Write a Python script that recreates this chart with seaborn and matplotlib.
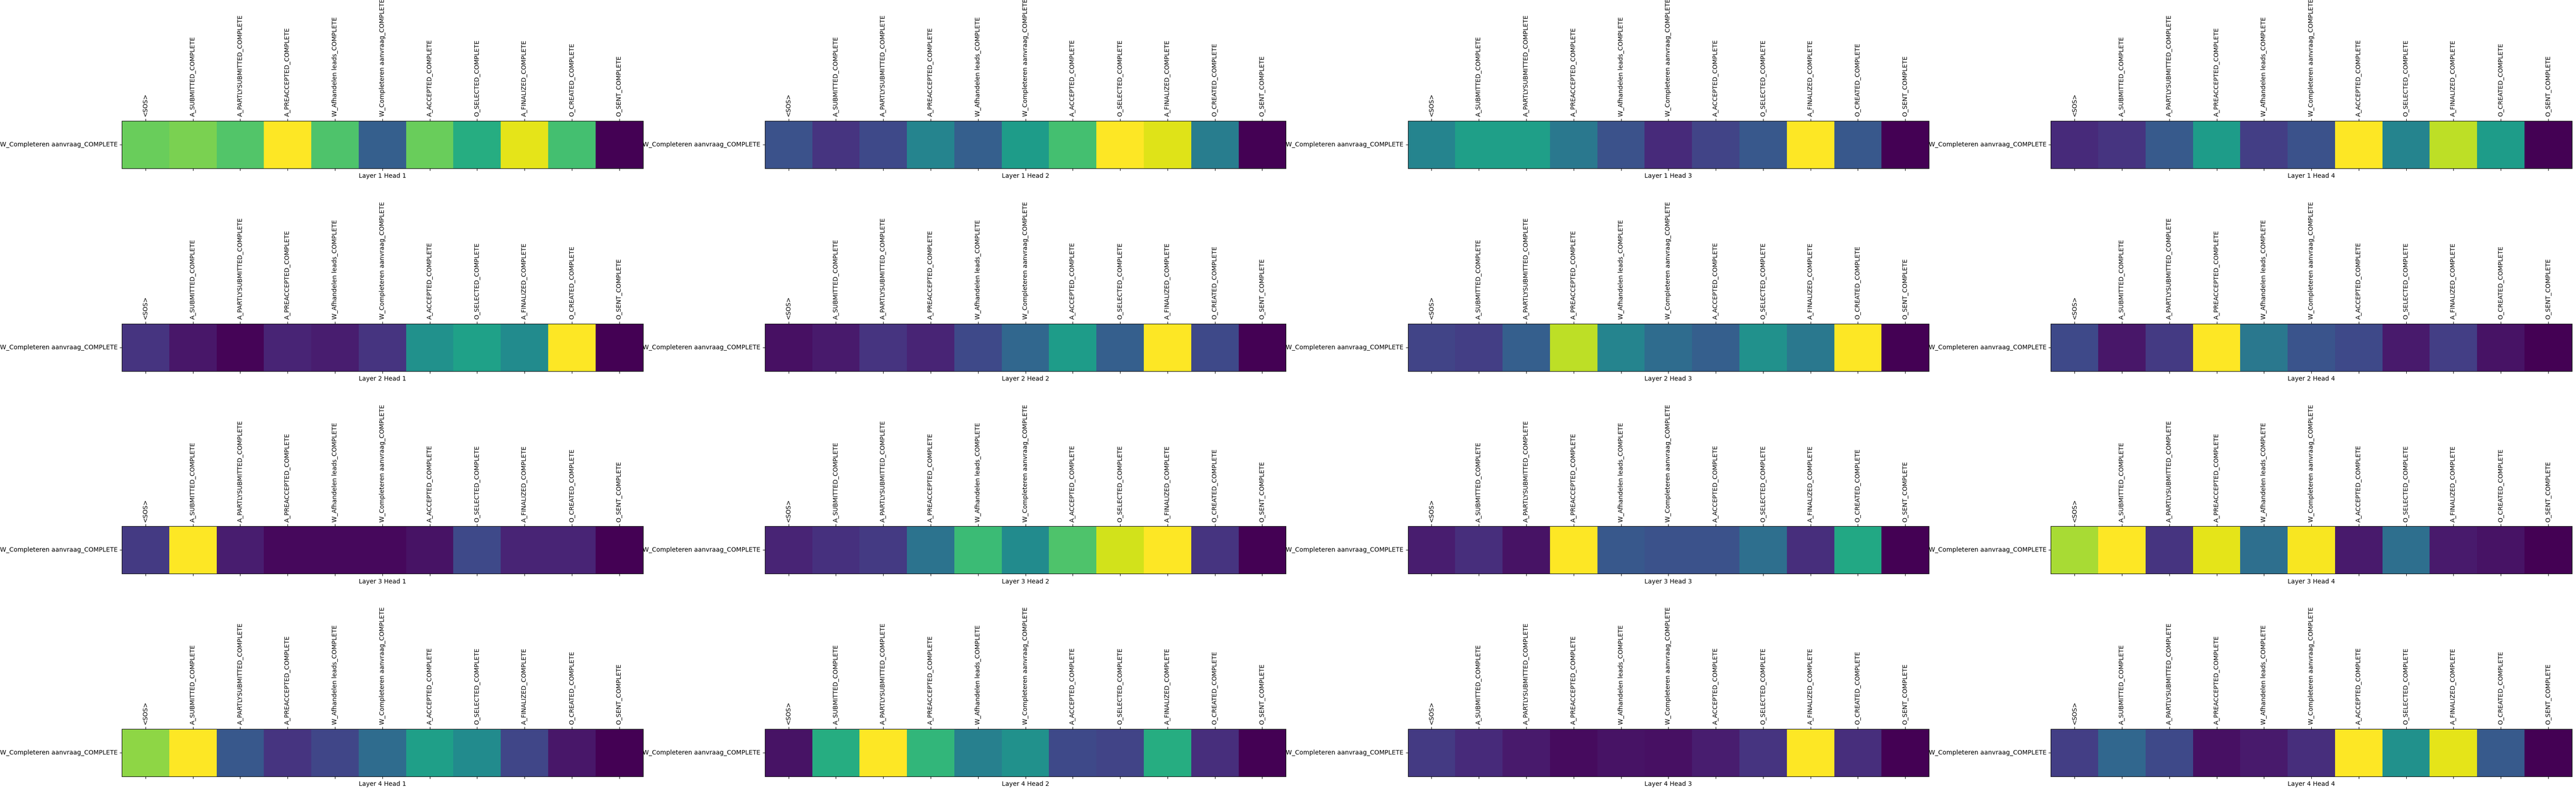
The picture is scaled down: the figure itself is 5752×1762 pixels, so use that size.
import numpy as np
import pandas as pd
import matplotlib
matplotlib.use("Agg")
import matplotlib.pyplot as plt
import seaborn as sns

# LABELS

events = ['<SOS>', 'A_SUBMITTED_COMPLETE', 'A_PARTLYSUBMITTED_COMPLETE',
          'A_PREACCEPTED_COMPLETE', 'W_Afhandelen leads_COMPLETE',
          'W_Completeren aanvraag_COMPLETE', 'A_ACCEPTED_COMPLETE',
          'O_SELECTED_COMPLETE', 'A_FINALIZED_COMPLETE',
          'O_CREATED_COMPLETE', 'O_SENT_COMPLETE']

query = ['W_Completeren aanvraag_COMPLETE']

# ATTENTION WEIGHTS (normalised per head)

l1h1 = [0.77, 0.80, 0.73, 1.00, 0.72, 0.30, 0.77, 0.62, 0.96, 0.70, 0.00]
l1h2 = [0.25, 0.15, 0.22, 0.45, 0.30, 0.55, 0.70, 1.00, 0.95, 0.42, 0.00]
l1h3 = [0.45, 0.56, 0.56, 0.40, 0.25, 0.12, 0.20, 0.27, 1.00, 0.27, 0.00]
l1h4 = [0.12, 0.15, 0.28, 0.55, 0.18, 0.25, 1.00, 0.45, 0.90, 0.55, 0.00]

l2h1 = [0.15, 0.06, 0.01, 0.10, 0.08, 0.15, 0.50, 0.57, 0.48, 1.00, 0.00]
l2h2 = [0.04, 0.07, 0.15, 0.10, 0.22, 0.33, 0.55, 0.30, 1.00, 0.22, 0.00]
l2h3 = [0.20, 0.18, 0.30, 0.90, 0.45, 0.35, 0.30, 0.50, 0.40, 1.00, 0.00]
l2h4 = [0.22, 0.06, 0.17, 1.00, 0.40, 0.26, 0.22, 0.07, 0.18, 0.05, 0.00]

l3h1 = [0.17, 1.00, 0.08, 0.02, 0.02, 0.02, 0.05, 0.22, 0.10, 0.10, 0.00]
l3h2 = [0.10, 0.14, 0.17, 0.38, 0.68, 0.48, 0.72, 0.93, 1.00, 0.15, 0.00]
l3h3 = [0.08, 0.13, 0.05, 1.00, 0.27, 0.25, 0.25, 0.36, 0.13, 0.60, 0.00]
l3h4 = [0.87, 1.00, 0.15, 0.96, 0.36, 0.99, 0.07, 0.36, 0.07, 0.05, 0.00]

l4h1 = [0.83, 1.00, 0.27, 0.15, 0.21, 0.35, 0.56, 0.48, 0.21, 0.06, 0.00]
l4h2 = [0.05, 0.62, 1.00, 0.66, 0.43, 0.50, 0.22, 0.20, 0.62, 0.13, 0.00]
l4h3 = [0.17, 0.12, 0.07, 0.03, 0.05, 0.04, 0.08, 0.15, 1.00, 0.13, 0.00]
l4h4 = [0.18, 0.33, 0.22, 0.04, 0.07, 0.13, 1.00, 0.50, 0.96, 0.28, 0.00]

weights = [[l1h1, l1h2, l1h3, l1h4],
           [l2h1, l2h2, l2h3, l2h4],
           [l3h1, l3h2, l3h3, l3h4],
           [l4h1, l4h2, l4h3, l4h4]]

# FIGURE

fig, axes = plt.subplots(4, 4, figsize=(57.52, 17.62), dpi=100)
fig.subplots_adjust(left=0.0473, right=0.9984, top=0.8468, bottom=0.0159,
                    wspace=0.234, hspace=3.27)

for layer in range(4):
    for head in range(4):
        ax = axes[layer, head]
        df = pd.DataFrame([weights[layer][head]], index=query, columns=events)

        sns.heatmap(df, ax=ax, cmap='viridis', cbar=False,
                    xticklabels=events, yticklabels=query)

        ax.xaxis.tick_top()
        ax.tick_params(axis='x', bottom=True, top=True,
                       labelbottom=False, labeltop=True)
        plt.setp(ax.get_xticklabels(), rotation=90)
        plt.setp(ax.get_yticklabels(), rotation=0, va='center')

        for s in ax.spines.values():
            s.set_visible(True)
            s.set_color('black')

        ax.set_xlabel(f'Layer {layer + 1} Head {head + 1}')
        ax.set_ylabel('')

plt.savefig('out.png', dpi=100)
